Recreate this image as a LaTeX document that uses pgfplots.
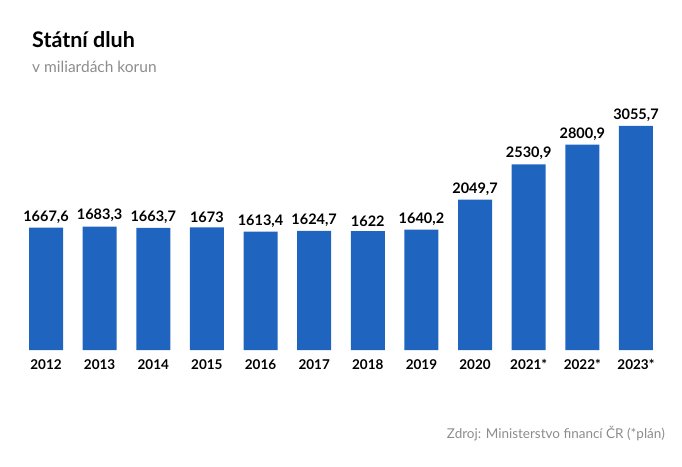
\documentclass[border=0pt]{standalone}
\usepackage{pgfplots}
\pgfplotsset{compat=1.18}
\usepackage{fontspec}
\setmainfont{Lato}
\definecolor{barblue}{HTML}{1F65BF}
\definecolor{subgray}{HTML}{8C8C8C}
\begin{document}
\begin{tikzpicture}[x=1pt,y=1pt]
\useasboundingbox (0,0) rectangle (682,466);
\node[anchor=base west,inner sep=0pt,font=\bfseries\fontsize{21.5}{23}\selectfont] at (32,418) {Státní dluh};
\node[anchor=base west,inner sep=0pt,text=subgray,font=\fontsize{15.5}{17}\selectfont] at (32,393) {v miliardách korun};
\node[anchor=base east,inner sep=0pt,text=subgray,font=\fontsize{13.5}{15}\selectfont] at (665,28) {Zdroj: Ministerstvo financí ČR (*plán)};
\begin{axis}[
  at={(46pt,116pt)}, anchor=origin,
  scale only axis, width=643.6pt, height=242pt,
  xmin=-0.5, xmax=11.5, ymin=0, ymax=3300,
  axis lines=none,
  ybar, bar width=34pt,
  xtick=data,
  nodes near coords,
  /pgf/number format/assume math mode=true,
  /pgf/number format/.cd, use comma, fixed, precision=1, 1000 sep={},
  /pgfplots/.cd,
  every node near coord/.append style={font=\bfseries\fontsize{14.5}{16}\selectfont, text=black, yshift=1pt},
  clip=false,
]
\addplot[fill=barblue, draw=none] coordinates {
(0,1667.6) (1,1683.3) (2,1663.7) (3,1673) (4,1613.4) (5,1624.7)
(6,1622) (7,1640.2) (8,2049.7) (9,2530.9) (10,2800.9) (11,3055.7)};
\foreach \i/\lab in {0/2012,1/2013,2/2014,3/2015,4/2016,5/2017,6/2018,7/2019,8/2020,9/2021*,10/2022*,11/2023*}{
  \edef\tmp{\noexpand\node[anchor=base,font=\noexpand\bfseries\noexpand\fontsize{13.5}{15}\noexpand\selectfont,inner sep=0pt] at (axis cs:\i,0) [yshift=-19pt] {\lab};}
  \tmp
}
\end{axis}
\end{tikzpicture}
\end{document}
